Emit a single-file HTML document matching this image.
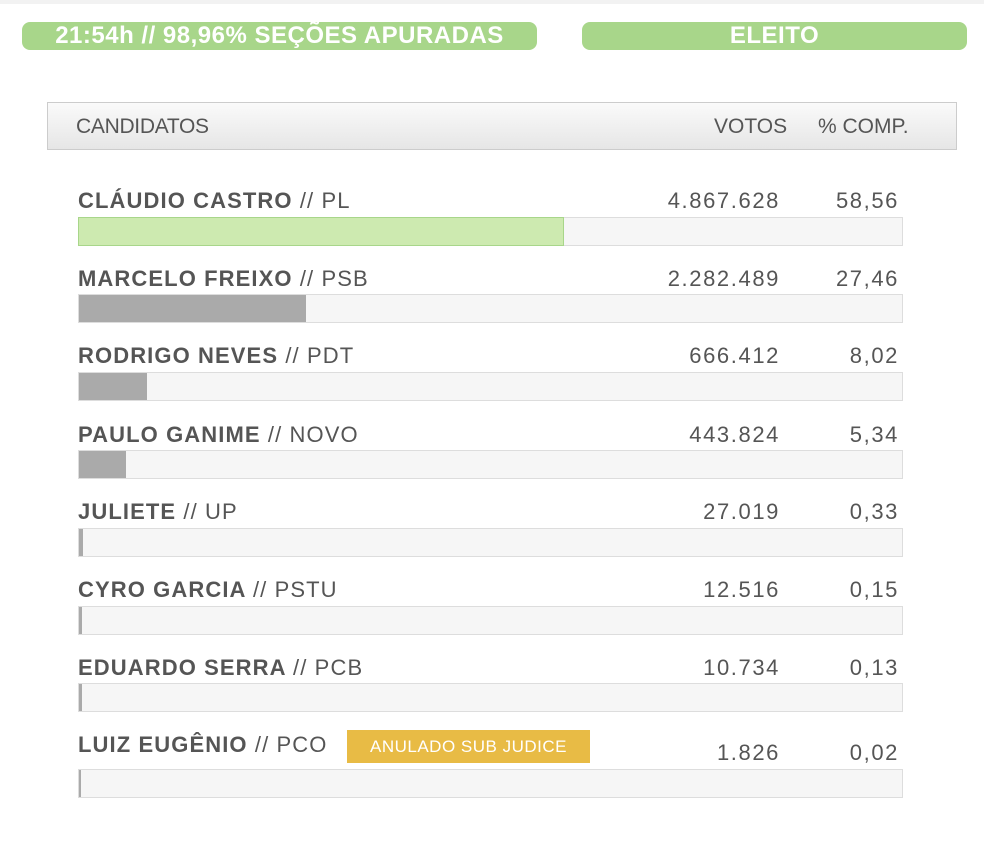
<!DOCTYPE html>
<html><head><meta charset="utf-8"><style>
body{margin:0;width:984px;height:841px;background:#fff;font-family:"Liberation Sans","DejaVu Sans",sans-serif;position:relative;overflow:hidden}
.a{position:absolute}
.pill{background:#a8d68a;border-radius:8px;color:#fff;font-size:24px;font-weight:bold;text-align:center;line-height:28px;letter-spacing:0.5px}
.hdr{left:47px;top:102px;width:908px;height:46px;border:1px solid #ccc;background:linear-gradient(#fafafa,#e6e6e6);color:#555;font-size:21px}
.name{left:78px;font-size:22px;color:#555;font-weight:bold;letter-spacing:1.1px;white-space:nowrap}
.name span{font-weight:normal}
.num{font-size:22px;color:#555;text-align:right;letter-spacing:1.6px}
.bar{left:78px;width:823px;height:27px;background:#f6f6f6;border:1px solid #ddd}
.fill{position:absolute;left:0;top:0;height:27px;background:#aaa}
</style></head><body>
<div class="a" style="left:0;top:0;width:984px;height:4px;background:#f2f2f2"></div>
<div class="a pill" style="left:22px;top:22px;width:515px;">21:54h // 98,96% SEÇÕES APURADAS</div>
<div class="a pill" style="left:582px;top:22px;width:385px;">ELEITO</div>
<div class="a hdr">
<div class="a" style="left:28px;top:12px;letter-spacing:-0.3px">CANDIDATOS</div>
<div class="a" style="left:666px;top:12px">VOTOS</div>
<div class="a" style="left:770px;top:12px">% COMP.</div>
</div>

<div class="a name" style="top:188px">CLÁUDIO CASTRO <span>// PL</span></div>
<div class="a num" style="left:600px;width:180px;top:188px">4.867.628</div>
<div class="a num" style="left:800px;width:99px;top:188px">58,56</div>
<div class="a bar" style="top:217px"><div class="fill" style="width:484px;background:#cdeab0;outline:1px solid #a8d68a"></div></div>

<div class="a name" style="top:266px">MARCELO FREIXO <span>// PSB</span></div>
<div class="a num" style="left:600px;width:180px;top:266px">2.282.489</div>
<div class="a num" style="left:800px;width:99px;top:266px">27,46</div>
<div class="a bar" style="top:294px"><div class="fill" style="width:227px"></div></div>

<div class="a name" style="top:343px">RODRIGO NEVES <span>// PDT</span></div>
<div class="a num" style="left:600px;width:180px;top:343px">666.412</div>
<div class="a num" style="left:800px;width:99px;top:343px">8,02</div>
<div class="a bar" style="top:372px"><div class="fill" style="width:68px"></div></div>

<div class="a name" style="top:422px">PAULO GANIME <span>// NOVO</span></div>
<div class="a num" style="left:600px;width:180px;top:422px">443.824</div>
<div class="a num" style="left:800px;width:99px;top:422px">5,34</div>
<div class="a bar" style="top:450px"><div class="fill" style="width:47px"></div></div>

<div class="a name" style="top:499px">JULIETE <span>// UP</span></div>
<div class="a num" style="left:600px;width:180px;top:499px">27.019</div>
<div class="a num" style="left:800px;width:99px;top:499px">0,33</div>
<div class="a bar" style="top:528px"><div class="fill" style="width:4px"></div></div>

<div class="a name" style="top:577px">CYRO GARCIA <span>// PSTU</span></div>
<div class="a num" style="left:600px;width:180px;top:577px">12.516</div>
<div class="a num" style="left:800px;width:99px;top:577px">0,15</div>
<div class="a bar" style="top:606px"><div class="fill" style="width:3px"></div></div>

<div class="a name" style="top:655px">EDUARDO SERRA <span>// PCB</span></div>
<div class="a num" style="left:600px;width:180px;top:655px">10.734</div>
<div class="a num" style="left:800px;width:99px;top:655px">0,13</div>
<div class="a bar" style="top:683px"><div class="fill" style="width:3px"></div></div>

<div class="a name" style="top:732px">LUIZ EUGÊNIO <span>// PCO</span></div>
<div class="a" style="left:347px;top:730px;width:243px;height:33px;background:#e8bb45;color:#fff;font-size:17px;line-height:33px;text-align:center;letter-spacing:0.5px">ANULADO SUB JUDICE</div>
<div class="a num" style="left:600px;width:180px;top:740px">1.826</div>
<div class="a num" style="left:800px;width:99px;top:740px">0,02</div>
<div class="a bar" style="top:769px"><div class="fill" style="width:2px"></div></div>
</body></html>
